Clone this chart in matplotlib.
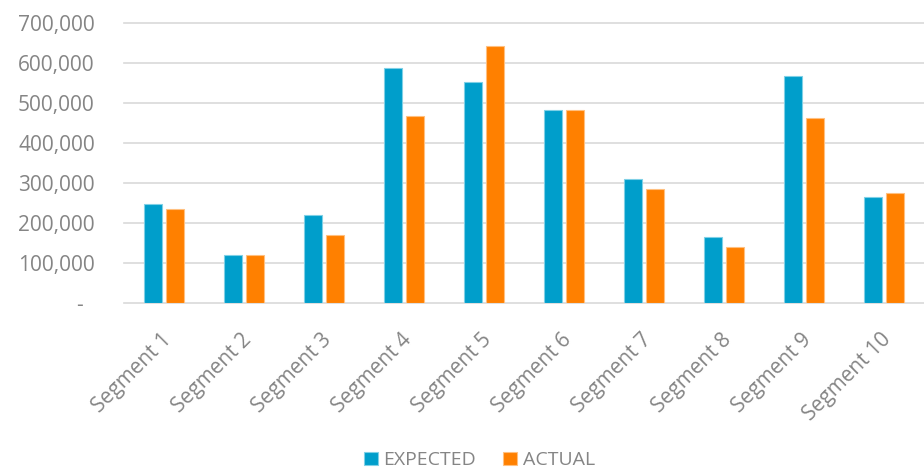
import numpy as np
import matplotlib
matplotlib.use("Agg")
import matplotlib.pyplot as plt
from matplotlib.ticker import FuncFormatter
from matplotlib.transforms import ScaledTranslation

# values
segments = ["Segment %d" % i for i in range(1, 11)]
expected = [247000, 121000, 221000, 587000, 552000, 482000, 311000, 166000, 567000, 266000]
actual = [236000, 121000, 171000, 467000, 642000, 482000, 286000, 141000, 462000, 276000]

blue = "#009ECB"
orange = "#FF8000"
grey = "#858585"

plt.rcParams["font.family"] = ["Open Sans", "DejaVu Sans"]

fig = plt.figure(figsize=(9.24, 4.71), dpi=100)
ax = fig.add_axes([124 / 924, 1 - 303 / 471, 800 / 924, 280 / 471])

x = np.arange(len(segments))
w = 0.225
off = 0.1375
ax.bar(x - off, expected, w, color=blue, edgecolor="#7fd0e6", linewidth=0.8,
       label="EXPECTED", zorder=3)
ax.bar(x + off, actual, w, color=orange, edgecolor="#ffc080", linewidth=0.8,
       label="ACTUAL", zorder=3)

ax.set_xlim(-0.5, len(segments) - 0.5)
ax.set_ylim(0, 700000)
ax.set_yticks(np.arange(0, 700001, 100000))
ax.yaxis.set_major_formatter(FuncFormatter(lambda v, p: "-  " if v == 0 else "{:,.0f}".format(v)))

ax.grid(axis="y", color="#D9D9D9", linewidth=1.2, zorder=0)
for gl in ax.get_ygridlines():
    gl.set_clip_on(False)
for s in ax.spines.values():
    s.set_visible(False)

ax.set_xticks(x)
ax.set_xticklabels(segments, rotation=45, ha="right", va="center",
                   rotation_mode="anchor")
ax.tick_params(axis="x", length=0, pad=24, labelsize=15, labelcolor=grey)
ax.tick_params(axis="y", length=0, pad=21, labelsize=15, labelcolor=grey)
# nudge the slanted labels a little to the right, like the original
for lab in ax.get_xticklabels():
    lab.set_transform(lab.get_transform() + ScaledTranslation(4 / 100, 0, fig.dpi_scale_trans))

fig.legend(loc="center", bbox_to_anchor=(0.519, 0.023), ncol=2, frameon=False,
           fontsize=14, labelcolor=grey, handlelength=0.7, handleheight=0.7,
           handletextpad=0.3, columnspacing=1.4)

fig.savefig("out.png", dpi=100)
